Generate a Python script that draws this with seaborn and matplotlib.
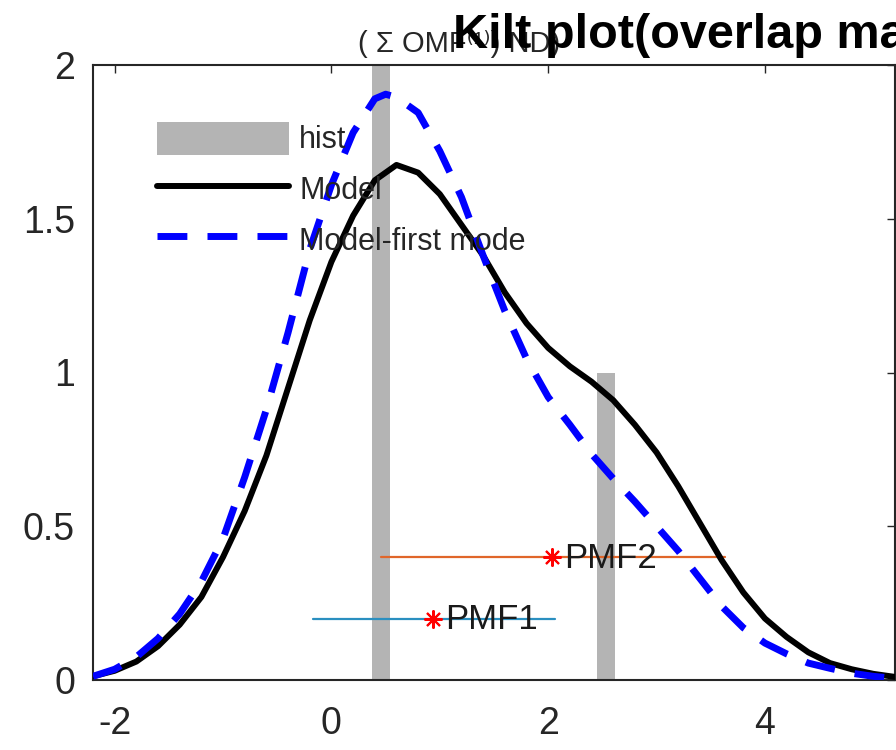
import matplotlib
matplotlib.use("Agg")
import matplotlib.pyplot as plt
import seaborn as sns
from matplotlib.patches import Patch
from matplotlib.lines import Line2D

# Model curve (black)
model_x = [-2.2, -2.0, -1.8, -1.6, -1.4, -1.2, -1.0, -0.8, -0.6, -0.4, -0.2, 0.0,
           0.2, 0.4, 0.6, 0.8, 1.0, 1.2, 1.4, 1.6, 1.8, 2.0, 2.2, 2.4, 2.6, 2.8,
           3.0, 3.2, 3.4, 3.6, 3.8, 4.0, 4.2, 4.4, 4.6, 4.8, 5.0, 5.2]
model_y = [0.012, 0.03, 0.06, 0.11, 0.18, 0.27, 0.40, 0.55, 0.73, 0.95, 1.17, 1.36,
           1.51, 1.625, 1.675, 1.65, 1.58, 1.48, 1.38, 1.26, 1.16, 1.08, 1.02, 0.97, 0.91, 0.83,
           0.74, 0.63, 0.51, 0.39, 0.285, 0.20, 0.14, 0.09, 0.055, 0.035, 0.02, 0.01]

# Model first mode (blue dashed)
mode_x = [-2.2, -2.0, -1.8, -1.6, -1.4, -1.2, -1.0, -0.8, -0.6, -0.4, -0.2, 0.0,
          0.2, 0.4, 0.5, 0.6, 0.8, 1.0, 1.2, 1.4, 1.6, 1.8, 2.0, 2.2, 2.4, 2.6,
          2.8, 3.0, 3.2, 3.4, 3.6, 3.8, 4.0, 4.2, 4.4, 4.6, 4.8, 5.0, 5.2]
mode_y = [0.012, 0.035, 0.075, 0.135, 0.215, 0.32, 0.46, 0.66, 0.88, 1.13, 1.40, 1.61,
          1.78, 1.89, 1.905, 1.895, 1.845, 1.72, 1.57, 1.38, 1.20, 1.045, 0.92, 0.83, 0.735, 0.655,
          0.58, 0.50, 0.42, 0.33, 0.24, 0.17, 0.12, 0.085, 0.055, 0.038, 0.022, 0.012, 0.005]

# histogram bars
hist_x = [0.457, 2.533]
hist_h = [2.0, 1.0]

# PMF intervals
pmf_names = ["PMF1", "PMF2"]
pmf_y = [0.2, 0.4]
pmf_lo = [-0.17, 0.457]
pmf_hi = [2.06, 3.63]
pmf_mid = [0.937, 2.035]
pmf_colors = ["#2a8fc0", "#e0662a"]

sns.set_theme(style="white")
plt.rcParams["font.family"] = ["Liberation Sans", "DejaVu Sans"]
ink = "#262626"

fig = plt.figure(figsize=(8.96, 7.5), dpi=100)
ax = fig.add_axes([93 / 896, 70 / 750, 802 / 896, 615 / 750])

ax.bar(hist_x, hist_h, width=0.166, color="#b4b4b4", edgecolor="none", zorder=1)

sns.lineplot(x=model_x, y=model_y, ax=ax, color="black", linewidth=4.3, zorder=3)
sns.lineplot(x=mode_x, y=mode_y, ax=ax, color="blue", linewidth=5, zorder=4)
ax.lines[-1].set_dashes((4.3, 2.9))

for name, y, lo, hi, mid, c in zip(pmf_names, pmf_y, pmf_lo, pmf_hi, pmf_mid, pmf_colors):
    ax.plot([lo, hi], [y, y], color=c, linewidth=1.6, zorder=2)
    ax.plot([mid], [y], marker=(8, 2, 0), markersize=13, markeredgewidth=1.5,
            color="red", linestyle="none", zorder=5)
    ax.annotate(name, (mid, y), xytext=(9, -1), textcoords="offset points",
                ha="left", va="center", fontsize=25, color="#1a1a1a", zorder=6)

ax.set_xlim(-2.2, 5.2)
ax.set_ylim(0, 2)
ax.set_xticks([-2, 0, 2, 4])
ax.set_xticklabels(["-2", "0", "2", "4"])
ax.set_yticks([0, 0.5, 1, 1.5, 2])
ax.set_yticklabels(["0", "0.5", "1", "1.5", "2"])
ax.tick_params(direction="in", length=6, width=1, top=True, right=True,
               labelsize=27, colors=ink)
ax.tick_params(axis="x", pad=19)
ax.tick_params(axis="y", pad=13)
for s in ax.spines.values():
    s.set_color(ink)
    s.set_linewidth(1.5)

handles = [Patch(facecolor="#b4b4b4", edgecolor="none"),
           Line2D([], [], color="black", linewidth=4.3),
           Line2D([], [], color="blue", linewidth=5, dashes=(4.3, 2.9))]
ax.legend(handles, ["hist", "Model", "Model-first mode"], loc="upper left",
          bbox_to_anchor=(0.08, 0.908), frameon=False, fontsize=22,
          handlelength=4.3, handleheight=1.3, handletextpad=0.35,
          labelspacing=0.55, borderpad=0, borderaxespad=0)

fig.text(358 / 896, 1 - 52 / 750, "( \u03a3 OMF\u207d\u00b9\u207e) ND)", fontsize=21,
         color=ink, ha="left", va="baseline")
fig.text(453 / 896, 1 - 48 / 750, "Kilt plot(overlap mass)", fontsize=35,
         fontweight="bold", color="black", ha="left", va="baseline")

fig.savefig("out.png", dpi=100)
